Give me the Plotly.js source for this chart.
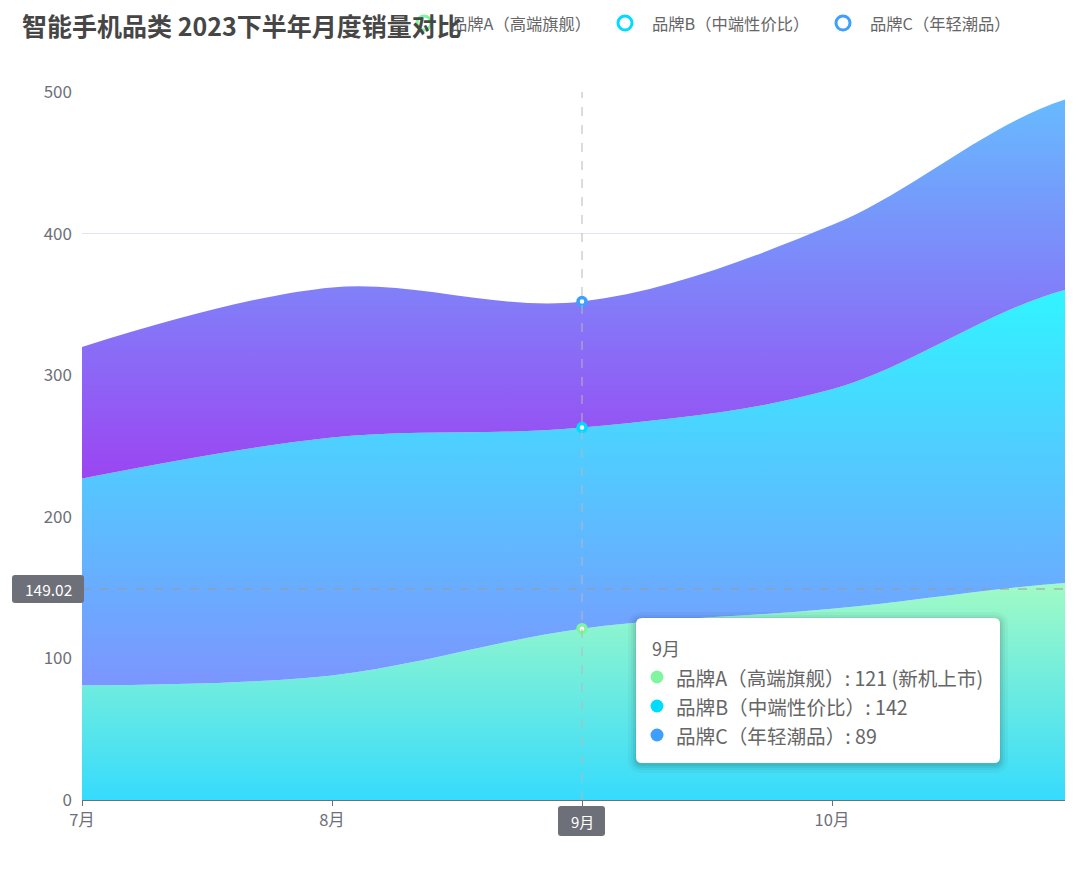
<!DOCTYPE html>
<html>
<head>
<meta charset="utf-8">
<script src="https://cdn.plot.ly/plotly-3.0.1.min.js"></script>
<style>
  html, body { margin: 0; padding: 0; background: #fff; }
  #chart { width: 1080px; height: 876px; }
</style>
</head>
<body>
<div id="chart"></div>
<script>
// 数据（从图上读出，11月、12月在右侧被裁掉，按边缘走势估计）
const months = ['7月', '8月', '9月', '10月', '11月', '12月'];
const brandA = [81, 88, 121, 135, 154, 155];
const brandB = [146, 168, 142, 155, 209, 208];
const brandC = [93, 106, 89, 116, 135, 132];
const seriesNames = ['品牌A（高端旗舰）', '品牌B（中端性价比）', '品牌C（年轻潮品）'];
const notesA = ['', '', '新机上市', '', '', ''];
const yTicks = [0, 100, 200, 300, 400, 500];

// 悬停状态（截图时的 tooltip / axisPointer）
const HOVER_MONTH = '9月';
const POINTER_Y = 149.02;

const COLORS = ['#80f5a0', '#00dcff', '#3d9fff'];
const FONT = '"Noto Sans CJK SC", "Noto Sans", sans-serif';

// 画布几何
const M = { l: 82, r: 15, t: 92, b: 76 };
const W = 1080, H = 876;
const PW = W - M.l - M.r, PH = H - M.t - M.b;
const fx = px => (px - M.l) / PW;
const fy = py => (H - M.b - py) / PH;

const stackAB = brandA.map((v, i) => v + brandB[i]);
const stackABC = stackAB.map((v, i) => v + brandC[i]);
const idx = months.indexOf(HOVER_MONTH);

function area(y, lower, upper, c0, c1) {
    return {
        x: months, y: y, type: 'scatter', mode: 'lines', stackgroup: 'one',
        line: { shape: 'spline', smoothing: 1, width: 0 },
        fillgradient: {
            type: 'vertical',
            start: Math.min(...lower), stop: Math.max(...upper),
            colorscale: [[0, c0], [1, c1]]
        },
        hoverinfo: 'skip', showlegend: false
    };
}

const data = [
    area(brandA, [0], brandA, '#36dbfd', '#a2fbc4'),
    area(brandB, brandA, stackAB, '#7c95ff', '#30f5ff'),
    area(brandC, stackAB, stackABC, '#9b45f2', '#66bcff'),
    {
        x: [months[idx], months[idx], months[idx]],
        y: [brandA[idx], stackAB[idx], stackABC[idx]],
        type: 'scatter', mode: 'markers', cliponaxis: false,
        marker: { size: 8, color: '#fff', line: { width: 3.5, color: COLORS } },
        hoverinfo: 'skip', showlegend: false
    }
];

// 圆角矩形（像素，y 向上）
function rrect(x0, y0, x1, y1, r) {
    return `M${x0 + r},${y0} L${x1 - r},${y0} Q${x1},${y0} ${x1},${y0 + r} ` +
        `L${x1},${y1 - r} Q${x1},${y1} ${x1 - r},${y1} L${x0 + r},${y1} ` +
        `Q${x0},${y1} ${x0},${y1 - r} L${x0},${y0 + r} Q${x0},${y0} ${x0 + r},${y0} Z`;
}
function circle(ax, ay, r, color, fill, width) {
    return {
        type: 'circle', xref: 'paper', yref: 'paper',
        xsizemode: 'pixel', ysizemode: 'pixel', xanchor: ax, yanchor: ay,
        x0: -r, x1: r, y0: -r, y1: r,
        line: { color: color, width: width }, fillcolor: fill, layer: 'above'
    };
}

const shapes = [
    { type: 'line', xref: 'x', yref: 'paper', x0: idx, x1: idx, y0: 0, y1: 1,
      line: { color: '#b8b8b8', width: 1, dash: 'dash' }, layer: 'above' },
    { type: 'line', xref: 'paper', yref: 'y', x0: 0, x1: 1, y0: POINTER_Y, y1: POINTER_Y,
      line: { color: '#9a9a9a', width: 1, dash: 'dash' }, layer: 'above' },
    // axisPointer 标签
    { type: 'path', xref: 'x', yref: 'paper', xsizemode: 'pixel', ysizemode: 'pixel',
      xanchor: idx, yanchor: 0, path: rrect(-24, -36, 23, -6, 3),
      fillcolor: '#6e7079', line: { width: 0 }, layer: 'above' },
    { type: 'path', xref: 'paper', yref: 'y', xsizemode: 'pixel', ysizemode: 'pixel',
      xanchor: 0, yanchor: POINTER_Y, path: rrect(-70, -14, 2, 14, 3),
      fillcolor: '#6e7079', line: { width: 0 }, layer: 'above' }
];

// tooltip 阴影与框
const tip = { x0: 636, x1: 1000, y0: 618, y1: 763 };
[[8, 0.03], [5, 0.04], [3, 0.05], [1, 0.06]].forEach(([g, a]) => {
    shapes.push({ type: 'path', xref: 'paper', yref: 'paper', xsizemode: 'pixel', ysizemode: 'pixel',
        xanchor: 0, yanchor: 0,
        path: rrect(tip.x0 - M.l - g, H - M.b - tip.y1 - g - 2, tip.x1 - M.l + g, H - M.b - tip.y0 + g - 2, 6 + g),
        fillcolor: `rgba(0,0,0,${a})`, line: { width: 0 }, layer: 'above' });
});
shapes.push({ type: 'path', xref: 'paper', yref: 'paper', xsizemode: 'pixel', ysizemode: 'pixel',
    xanchor: 0, yanchor: 0,
    path: rrect(tip.x0 - M.l, H - M.b - tip.y1, tip.x1 - M.l, H - M.b - tip.y0, 6),
    fillcolor: '#ffffff', line: { width: 0 }, layer: 'above' });

const annotations = [];

// tooltip 内容
annotations.push({ xref: 'paper', yref: 'paper', x: fx(650), y: fy(648), xanchor: 'left', yanchor: 'middle',
    text: HOVER_MONTH, showarrow: false, font: { family: FONT, size: 18, color: '#666' } });
const tipRows = [
    `${seriesNames[0]}: ${brandA[idx]}` + (notesA[idx] ? ` (${notesA[idx]})` : ''),
    `${seriesNames[1]}: ${brandB[idx]}`,
    `${seriesNames[2]}: ${brandC[idx]}`
];
tipRows.forEach((t, i) => {
    const py = 677 + i * 29;
    shapes.push(circle(fx(657), fy(py), 6.5, COLORS[i], COLORS[i], 0));
    annotations.push({ xref: 'paper', yref: 'paper', x: fx(674), y: fy(py), xanchor: 'left', yanchor: 'middle',
        text: t, showarrow: false, font: { family: FONT, size: 19.6, color: '#666' } });
});

// axisPointer 文字
annotations.push({ xref: 'x', yref: 'paper', x: idx, y: fy(821), xanchor: 'center', yanchor: 'middle',
    text: HOVER_MONTH, showarrow: false, font: { family: FONT, size: 15, color: '#fff' } });
annotations.push({ xref: 'paper', yref: 'y', x: fx(48), y: POINTER_Y, xanchor: 'center', yanchor: 'middle',
    text: POINTER_Y.toFixed(2), showarrow: false, font: { family: FONT, size: 15.5, color: '#fff' } });

// 图例（空心圆）
const legendX = [424, 625, 843];
seriesNames.forEach((n, i) => {
    shapes.push(circle(fx(legendX[i]), fy(23), 7, COLORS[i], 'rgba(0,0,0,0)', 3));
    annotations.push({ xref: 'paper', yref: 'paper', x: fx(legendX[i] + 25), y: fy(23), xanchor: 'left', yanchor: 'middle',
        text: n, showarrow: false, font: { family: FONT, size: 16.3, color: '#666' } });
});

// 标题
annotations.push({ xref: 'paper', yref: 'paper', x: fx(20), y: fy(25), xanchor: 'left', yanchor: 'middle',
    text: '<b>智能手机品类 2023下半年月度销量对比</b>', showarrow: false,
    font: { family: FONT, size: 25, color: '#464646' } });

// 9月 的刻度文字由 axisPointer 标签代替
const tickText = months.map((m, i) => (i === idx ? '' : m));

const layout = {
    width: W, height: H,
    margin: M,
    paper_bgcolor: '#fff', plot_bgcolor: '#fff',
    font: { family: FONT, color: '#6e7079' },
    hovermode: false,
    showlegend: false,
    xaxis: {
        type: 'category', categoryorder: 'array', categoryarray: months,
        tickvals: months, ticktext: tickText,
        range: [0, PW / 250],
        showgrid: false, zeroline: false,
        showline: true, linecolor: '#6e7079', linewidth: 1,
        ticks: 'outside', ticklen: 5, tickcolor: '#6e7079',
        tickfont: { family: FONT, size: 16.5, color: '#6e7079' }
    },
    yaxis: {
        range: [0, 500], tickvals: yTicks,
        showgrid: true, gridcolor: '#e0e6f1', zeroline: false, showline: false,
        ticks: '', ticklabelstandoff: 9,
        tickfont: { family: FONT, size: 17, color: '#6e7079' }
    },
    shapes: shapes,
    annotations: annotations
};

Plotly.newPlot('chart', data, layout, { displayModeBar: false, staticPlot: true });
</script>
</body>
</html>
